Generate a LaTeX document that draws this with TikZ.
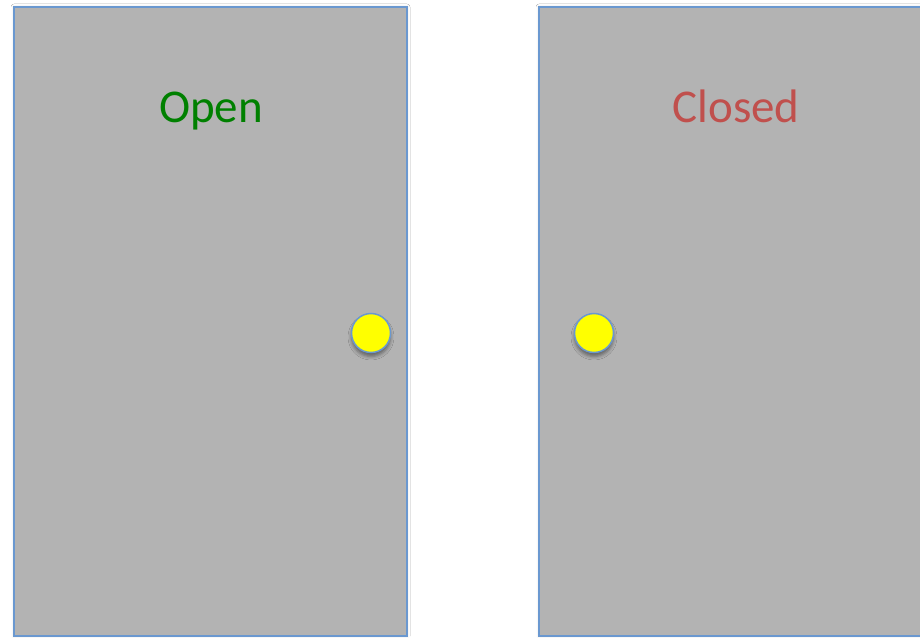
\documentclass[tikz,border=0pt]{standalone}
\usepackage{fontspec}
\setmainfont{Carlito}
\usetikzlibrary{shadows.blur}
\definecolor{doorgray}{HTML}{B3B3B3}
\definecolor{edgeblue}{HTML}{6A98D0}
\definecolor{opengreen}{HTML}{008000}
\definecolor{closedred}{HTML}{C0504D}
\definecolor{knobyellow}{HTML}{FFFF00}
\tikzset{
  door/.style={draw=edgeblue, line width=1.5pt, fill=doorgray,
    blur shadow={shadow xshift=0pt, shadow yshift=0pt, shadow blur radius=3pt, shadow opacity=15}},
  knob/.style={circle, draw=edgeblue, line width=1.5pt, fill=knobyellow, minimum size=39pt, inner sep=0pt,
    blur shadow={shadow xshift=0pt, shadow yshift=-4pt, shadow blur radius=3.5pt, shadow opacity=45}},
  label/.style={font=\fontsize{47}{54}\selectfont, anchor=base}
}
\begin{document}
\begin{tikzpicture}[x=1pt,y=1pt]
\useasboundingbox (0,0) rectangle (920,637);
\fill[white] (0,0) rectangle (920,637);
\begin{scope}
\clip (0,0) rectangle (920,637);
\path[door] (14,0.8) rectangle (407,630);
\path[door] (539,0.8) rectangle (940,630);
\end{scope}
\node[knob] (k1) at (371,304) {};
\node[knob] (k2) at (594,304) {};
\node[label, text=opengreen] (open) at (211,514) {Open};
\node[label, text=closedred] (closed) at (736,514) {Closed};
\end{tikzpicture}
\end{document}
